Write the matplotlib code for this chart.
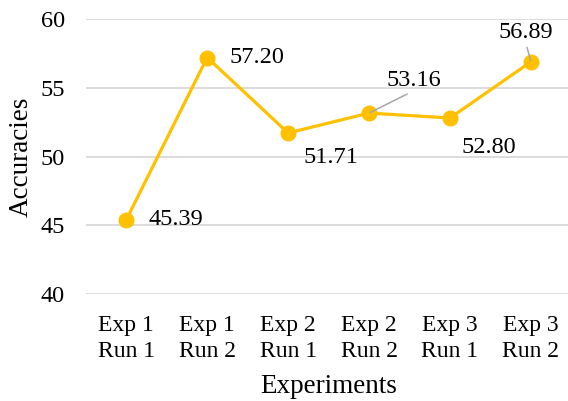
import matplotlib
matplotlib.use("Agg")
import matplotlib.pyplot as plt

#--------------------------------------#
#data#

categories = ["Exp 1\nRun 1", "Exp 1\nRun 2", "Exp 2\nRun 1",
              "Exp 2\nRun 2", "Exp 3\nRun 1", "Exp 3\nRun 2"]
accuracies = [45.39, 57.20, 51.71, 53.16, 52.80, 56.89]
y_ticks = [40, 45, 50, 55, 60]

# label offsets in pixels from each point, and whether a leader line is drawn
label_offsets = [(50, 0), (50, 0), (43, -25), (45, 33), (39, -29), (-5, 29)]
leader = [False, False, False, True, False, True]

#--------------------------------------#
#plot#

plt.rcParams["font.family"] = ["Liberation Serif", "DejaVu Serif"]

fig = plt.figure(figsize=(5.68, 4.01), dpi=100)
ax = fig.add_axes([0.151, 0.2668, 0.855, 0.6858])

x = list(range(len(categories)))
ax.plot(x, accuracies, color="#FFC000", linewidth=2.3, marker="o",
        markersize=10.5, zorder=3)

for i, val in enumerate(accuracies):
    dx, dy = label_offsets[i]
    props = None
    if leader[i]:
        props = dict(arrowstyle="-", color="#a6a6a6", linewidth=1.1,
                     shrinkA=1, shrinkB=1, relpos=(0.5, 0))
    ax.annotate(f"{val:.2f}", xy=(i, val), xytext=(dx, dy),
                textcoords="offset pixels", ha="center", va="center",
                fontsize=17.5, color="black", arrowprops=props, zorder=4)

ax.set_xlim(-0.5, len(categories) - 0.5)
ax.set_ylim(40, 60)
ax.set_yticks(y_ticks)
ax.set_xticks(x)
ax.set_xticklabels(categories, fontsize=17, linespacing=1.3)
ax.tick_params(axis="y", labelsize=17.5, length=0, pad=15)
ax.tick_params(axis="x", length=0, pad=15)

ax.grid(axis="y", color="#d9d9d9", linewidth=1.3)
ax.set_axisbelow(True)
for s in ax.spines.values():
    s.set_visible(False)

ax.set_xlabel("Experiments", fontsize=19.5)
ax.set_ylabel("Accuracies", fontsize=19.5)
ax.xaxis.set_label_coords(0.5, -0.29)
ax.yaxis.set_label_coords(-0.108, 0.5)

fig.savefig("out.png", dpi=100)
